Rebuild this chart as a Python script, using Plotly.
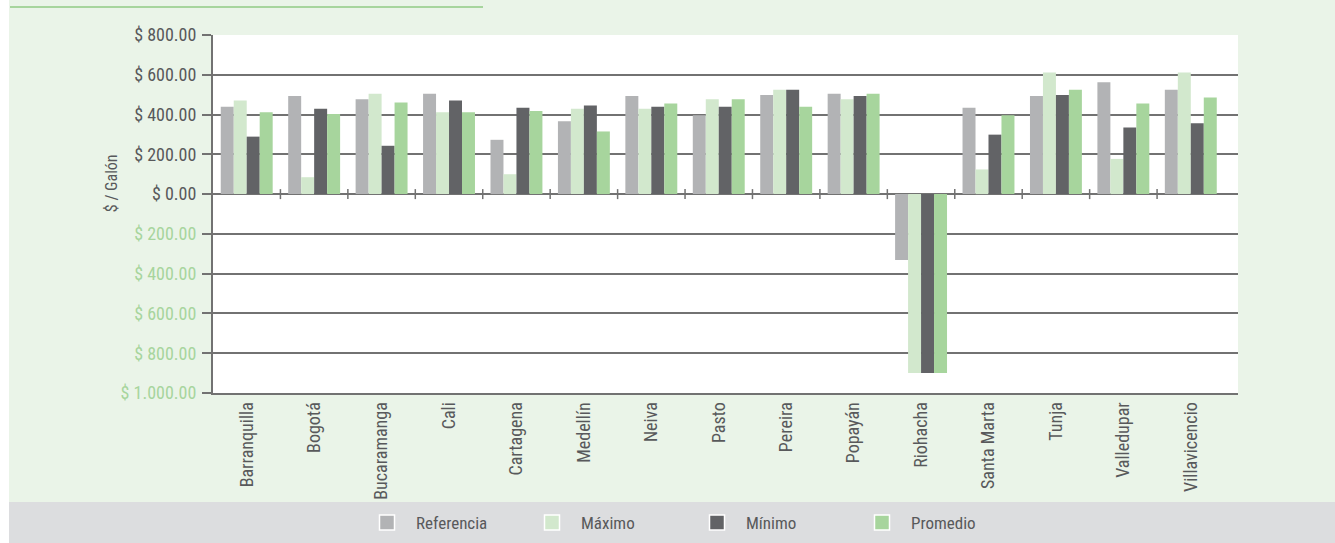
import plotly.graph_objects as go

categories = ["Barranquilla", "Bogotá", "Bucaramanga", "Cali", "Cartagena", "Medellín",
              "Neiva", "Pasto", "Pereira", "Popayán", "Riohacha", "Santa Marta", "Tunja",
              "Valledupar", "Villavicencio"]
referencia = [439, 493, 477, 504, 273, 366, 493, 397, 498, 504, -331, 434, 493, 562, 525]
maximo     = [471, 85, 504, 412, 100, 429, 429, 477, 525, 477, -900, 124, 611, 177, 611]
minimo     = [289, 429, 243, 471, 434, 445, 439, 439, 525, 493, -900, 299, 498, 335, 356]
promedio   = [412, 403, 461, 412, 418, 315, 455, 477, 439, 504, -900, 397, 525, 455, 486]

series_names = ["Referencia", "Máximo", "Mínimo", "Promedio"]
series_colors = ["#B2B3B5", "#D2E8CD", "#626366", "#A7D59D"]

tick_vals = [800, 600, 400, 200, 0, -200, -400, -600, -800, -1000]
tick_text_pos = ["$ 800.00", "$ 600.00", "$ 400.00", "$ 200.00", "$ 0.00"]
tick_text_neg = ["$ 200.00", "$ 400.00", "$ 600.00", "$ 800.00", "$ 1.000.00"]

FONT = "Roboto Condensed, Liberation Sans Narrow, DejaVu Sans Condensed, sans-serif"
DARK = "#58595B"
GREEN_TXT = "#A7D59D"
GRID = "#727272"

fig = go.Figure()
for name, vals, col in zip(series_names, [referencia, maximo, minimo, promedio], series_colors):
    fig.add_trace(go.Bar(x=categories, y=vals, name=name, showlegend=False,
                         marker=dict(color=col, line=dict(width=0))))
# legend-only entries (square swatches with white border, like the reference)
for name, col in zip(series_names, series_colors):
    fig.add_trace(go.Scatter(x=[None], y=[None], mode="markers", name=name,
                             marker=dict(symbol="square", size=15, color=col,
                                         line=dict(color="white", width=1.5))))

ticktext = tick_text_pos + [f"<span style='color:{GREEN_TXT}'>{t}</span>" for t in tick_text_neg]

W, H = 1335, 543
L, R, T, B = 213, 97, 35, 150
pw, ph = W - L - R, H - T - B

def px_x(p):
    return (p - L) / pw

def px_y(p):
    return (H - B - p) / ph

shapes = []
shapes.append(dict(type="rect", xref="paper", yref="paper", x0=px_x(-5), x1=px_x(9), y0=px_y(H + 5), y1=px_y(-5),
                   fillcolor="white", line=dict(width=0), layer="below"))
shapes.append(dict(type="rect", xref="paper", yref="paper", x0=px_x(9), x1=px_x(W + 5), y0=px_y(H + 5), y1=px_y(502),
                   fillcolor="#DCDDDF", line=dict(width=0), layer="below"))
shapes.append(dict(type="line", xref="paper", yref="paper", x0=px_x(10), x1=px_x(483), y0=px_y(7), y1=px_y(7),
                   line=dict(color="#A7D59D", width=2)))
for i in range(len(categories) - 1):
    shapes.append(dict(type="line", xref="x", yref="y", x0=i + 0.5, x1=i + 0.5,
                       ysizemode="pixel", yanchor=0, y0=-5, y1=5,
                       line=dict(color=GRID, width=1.5)))

fig.update_layout(
    width=W, height=H, autosize=False,
    margin=dict(l=L, r=R, t=T, b=B, pad=0, autoexpand=False),
    paper_bgcolor="#EAF4E8",
    plot_bgcolor="white",
    barmode="group", bargap=0.23, bargroupgap=0,
    font=dict(family=FONT, color=DARK, size=14),
    showlegend=True,
    legend=dict(orientation="h", x=px_x(358), xanchor="left", y=px_y(523), yanchor="middle",
                font=dict(size=17, color=DARK), bgcolor="rgba(0,0,0,0)", itemwidth=48,
                entrywidth=102, entrywidthmode="pixels"),
    xaxis=dict(range=[-0.5, 14.7], showgrid=False, showline=True, linecolor=GRID, linewidth=2, ticks="",
               tickangle=-90, tickfont=dict(size=18, color=DARK), mirror=False, automargin=False),
    yaxis=dict(range=[-1000, 800], tickvals=tick_vals, ticktext=ticktext, showgrid=True,
               gridcolor=GRID, gridwidth=2, zeroline=True, zerolinecolor=GRID, zerolinewidth=2,
               showline=True, linecolor=GRID, linewidth=2, ticks="outside", ticklen=9,
               tickcolor=GRID, tickwidth=2, tickfont=dict(size=18, color=DARK), ticklabelstandoff=2,
               automargin=False),
    shapes=shapes,
    annotations=[dict(text="$ / Galón", xref="paper", yref="y", x=px_x(111), y=55, showarrow=False,
                      textangle=-90, font=dict(size=16, color=DARK), xanchor="center", yanchor="middle")],
)

fig.write_html("out.html", config={"displayModeBar": False},
               post_script="document.body.style.margin='0';document.body.style.padding='0';"
                           "document.body.style.overflow='hidden';")
